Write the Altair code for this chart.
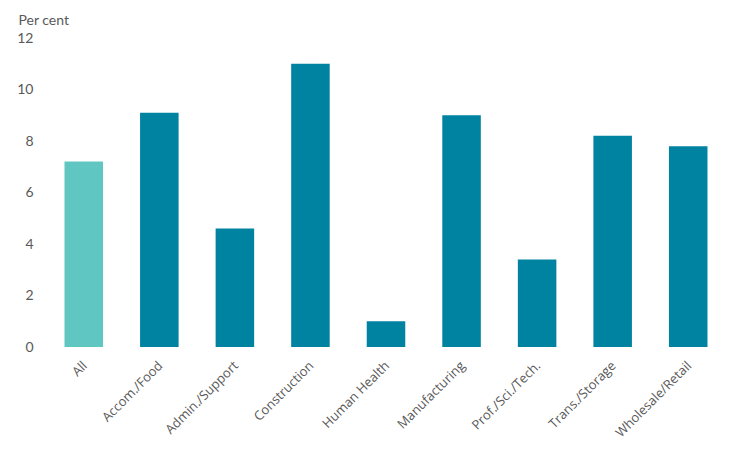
import altair as alt
import pandas as pd

categories = ["All", "Accom./Food", "Admin./Support", "Construction", "Human Health",
              "Manufacturing", "Prof./Sci./Tech.", "Trans./Storage", "Wholesale/Retail"]
values = [7.2, 9.1, 4.6, 11.0, 1.0, 9.0, 3.4, 8.2, 7.8]
groups = ["all", "sector", "sector", "sector", "sector", "sector", "sector", "sector", "sector"]

df = pd.DataFrame({"category": categories, "value": values, "group": groups})

chart = alt.Chart(df).mark_bar().encode(
    x=alt.X("category:N", sort=categories, title=None,
            scale=alt.Scale(paddingInner=0.49, paddingOuter=0.245),
            axis=alt.Axis(labelAngle=-45, labelFont="Open Sans", labelFontSize=13,
                          labelColor="#595959", ticks=False, domain=False, labelPadding=12,
                          labelOffset=-3)),
    y=alt.Y("value:Q", title="Per cent",
            scale=alt.Scale(domain=[0, 12]),
            axis=alt.Axis(values=[0, 2, 4, 6, 8, 10, 12], grid=False, domain=False, ticks=False,
                          labelFont="Lato", labelFontSize=14, labelColor="#595959",
                          labelPadding=13,
                          titleAngle=0, titleAlign="left", titleBaseline="alphabetic",
                          titleX=-28, titleY=-14, titleFont="Lato", titleFontSize=14,
                          titleFontWeight="normal", titleColor="#595959")),
    color=alt.Color("group:N", scale=alt.Scale(domain=["all", "sector"], range=["#60c6c1", "#0083a1"]),
                    legend=None),
).properties(
    width=680, height=309,
    autosize=alt.AutoSizeParams(type="none"),
    padding={"left": 46, "top": 38, "right": 30, "bottom": 103},
).configure_view(stroke=None)

chart.save("out.html", embed_options={"renderer": "svg", "actions": False})
